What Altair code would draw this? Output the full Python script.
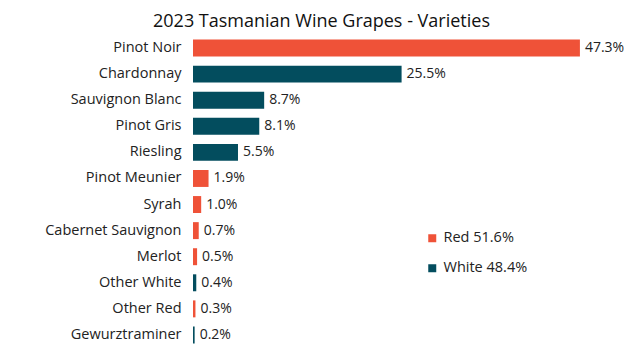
import altair as alt
import pandas as pd

varieties = ["Pinot Noir", "Chardonnay", "Sauvignon Blanc", "Pinot Gris", "Riesling",
             "Pinot Meunier", "Syrah", "Cabernet Sauvignon", "Merlot", "Other White",
             "Other Red", "Gewurztraminer"]
shares = [47.3, 25.5, 8.7, 8.1, 5.5, 1.9, 1.0, 0.7, 0.5, 0.4, 0.3, 0.2]
types = ["Red", "White", "White", "White", "White", "Red", "Red", "Red", "Red",
         "White", "Red", "White"]
type_labels = {"Red": "Red 51.6%", "White": "White 48.4%"}
colors = ["#EF5238", "#034D5E"]

df = pd.DataFrame({"Variety": varieties, "Share": shares,
                   "Type": [type_labels[t] for t in types]})
df["Label"] = df["Share"].map(lambda v: f"{v:.1f}%")

FONT = "Open Sans"

y = alt.Y("Variety:N", sort=varieties, title=None,
          scale=alt.Scale(paddingInner=0.35, paddingOuter=0.175),
          axis=alt.Axis(ticks=False, domain=False, labelPadding=12, labelFontSize=14.5,
                        labelColor="#222222", labelFont=FONT))
x = alt.X("Share:Q", title=None, scale=alt.Scale(domain=[0, 50]), axis=None)

bars = alt.Chart(df).mark_bar().encode(
    x=x, y=y,
    color=alt.Color("Type:N", scale=alt.Scale(domain=list(type_labels.values()), range=colors),
                    legend=alt.Legend(title=None, orient="none", legendX=232, legendY=196,
                                      symbolType="square", symbolSize=64, labelFontSize=14.5,
                                      labelFont=FONT, labelColor="#222222", rowPadding=15,
                                      symbolStrokeWidth=0, labelOffset=4, padding=0)),
)
text = alt.Chart(df).mark_text(align="left", baseline="middle", dx=5, fontSize=14,
                               font=FONT, color="#222222").encode(
    x=x, y=alt.Y("Variety:N", sort=varieties), text="Label:N")

chart = (bars + text).properties(
    width=409, height=313,
    title=alt.Title("2023 Tasmanian Wine Grapes - Varieties", fontSize=18, font=FONT,
                    fontWeight="normal", color="#111111", anchor="middle", dx=-76, offset=4),
    autosize=alt.AutoSizeParams(type="none"),
    padding={"left": 185, "top": 27, "right": 30, "bottom": 4},
).configure_view(stroke=None)

chart.save("out.html", embed_options={"renderer": "svg", "actions": False})
